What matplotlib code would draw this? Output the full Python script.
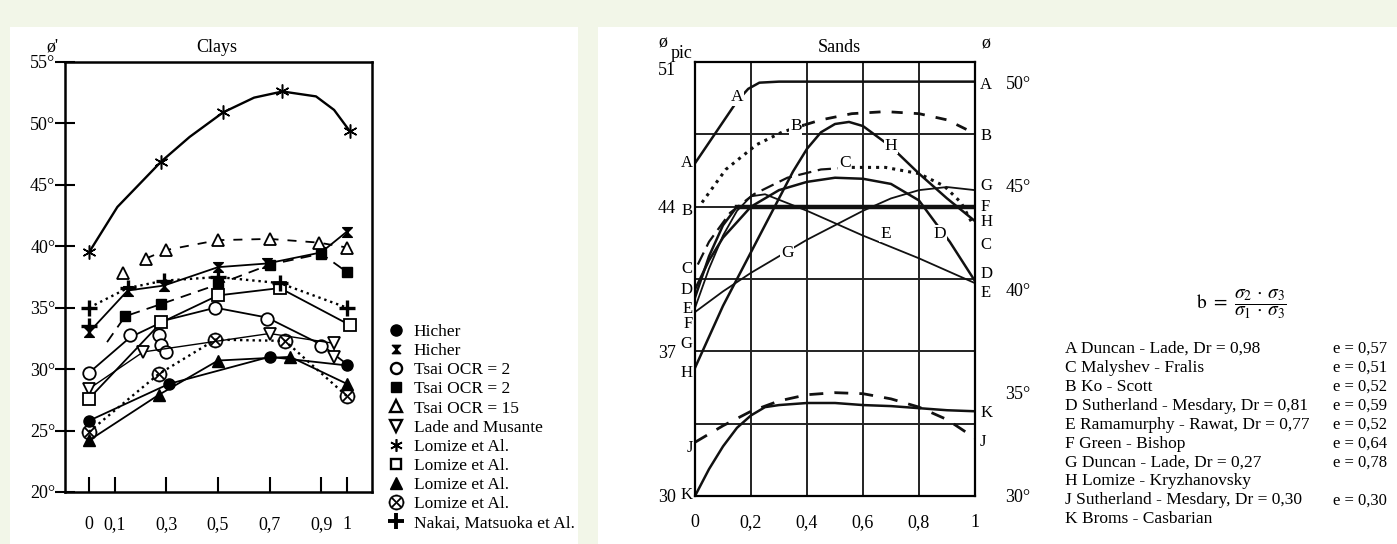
# -*- coding: utf-8 -*-
"""Friction angle vs b for clays and sands."""
import matplotlib
matplotlib.use('Agg')
# pylint: disable=wrong-import-position
import matplotlib.pyplot as plt
from matplotlib.lines import Line2D
from matplotlib.path import Path
from matplotlib.patches import Rectangle

plt.rcParams['font.family'] = ['Liberation Serif', 'DejaVu Serif']
plt.rcParams['mathtext.fontset'] = 'stix'

W, H = 1397, 544

# ---------------- Clays ----------------
clay_xticks = [0, 0.1, 0.3, 0.5, 0.7, 0.9, 1]
clay_xlabels = ['0', '0,1', '0,3', '0,5', '0,7', '0,9', '1']
clay_yticks = [20, 25, 30, 35, 40, 45, 50, 55]

hicher_dot_b = [0, 0.31, 0.70, 1.0]
hicher_dot_phi = [25.8, 28.8, 31.0, 30.3]
hicher_hg_b = [0.0, 0.15, 0.29, 0.50, 0.69, 0.90, 1.0]
hicher_hg_phi = [33.0, 36.4, 36.8, 38.3, 38.6, 39.5, 41.2]
tsai_open_b = [0, 0.16, 0.27, 0.28, 0.30, 0.49, 0.69, 0.90]
tsai_open_phi = [29.7, 32.8, 32.8, 32.0, 31.4, 35.0, 34.1, 31.9]
tsai_open_line_b = [0, 0.16, 0.30, 0.49, 0.69, 0.90, 1.0]
tsai_open_line_phi = [29.7, 32.6, 34.0, 35.0, 34.2, 32.0, 30.4]
tsai_fill_b = [0.07, 0.14, 0.28, 0.50, 0.70, 0.90, 1.0]
tsai_fill_phi = [32.2, 34.3, 35.3, 36.9, 38.5, 39.4, 37.9]
tsai15_b = [0.22, 0.30, 0.50, 0.70, 0.89, 1.0]
tsai15_phi = [39.0, 39.7, 40.5, 40.6, 40.3, 39.9]
tsai15_extra_b = [0.13]
tsai15_extra_phi = [37.8]
lade_b = [0, 0.21, 0.70, 0.95, 0.95]
lade_phi = [28.4, 31.4, 32.9, 32.1, 31.0]
lomize_star_b = [0, 0.11, 0.28, 0.39, 0.52, 0.64, 0.75, 0.88, 0.95, 1.01]
lomize_star_phi = [39.5, 43.2, 46.9, 48.9, 50.9, 52.1, 52.6, 52.2, 51.1, 49.4]
lomize_star_pts = [0, 2, 4, 6, 9]
lomize_sq_b = [0, 0.28, 0.50, 0.74, 1.01]
lomize_sq_phi = [27.6, 33.8, 36.0, 36.6, 33.6]
lomize_tri_b = [0, 0.27, 0.50, 0.78, 1.0]
lomize_tri_phi = [24.2, 27.9, 30.7, 31.0, 28.8]
lomize_ox_b = [0, 0.27, 0.49, 0.76, 1.0]
lomize_ox_phi = [24.9, 29.6, 32.4, 32.3, 27.8]
nakai_b = [0, 0.15, 0.29, 0.50, 0.74, 1.0]
nakai_phi = [35.0, 36.6, 37.2, 37.5, 37.0, 35.0]
nakai_extra_b = [0]
nakai_extra_phi = [33.5]

clay_labels = ['Hicher', 'Hicher', 'Tsai OCR = 2', 'Tsai OCR = 2',
               'Tsai OCR = 15', 'Lade and Musante', 'Lomize et Al.',
               'Lomize et Al.', 'Lomize et Al.', 'Lomize et Al.',
               'Nakai, Matsuoka et Al.']

# ---------------- Sands ----------------
sand_xticks = [0, 0.2, 0.4, 0.6, 0.8, 1]
sand_xlabels = ['0', '0,2', '0,4', '0,6', '0,8', '1']
sand_left_ticks = [30, 37, 44, 51]
sand_grid_minor = [33.5, 40.5, 47.5]
sand_right_ticks = [30, 35, 40, 45, 50]

sand_a_b = [0, 0.05, 0.10, 0.15, 0.19, 0.23, 0.30, 1.0]
sand_a_phi = [46.1, 47.1, 48.1, 49.1, 49.7, 50.0, 50.05, 50.05]
sand_b_b = [0.025, 0.11, 0.22, 0.31, 0.39, 0.45, 0.56, 0.68, 0.80, 0.90, 0.99]
sand_b_phi = [44.2, 45.8, 47.0, 47.6, 47.95, 48.2, 48.5, 48.6, 48.5, 48.2, 47.6]
sand_c_b = [0.01, 0.05, 0.125, 0.21, 0.33, 0.45, 0.56, 0.68, 0.80, 0.89, 0.95, 0.99]
sand_c_phi = [41.2, 42.3, 43.7, 44.6, 45.4, 45.8, 45.9, 45.9, 45.6, 45.0, 44.2, 43.2]
sand_d_b = [0, 0.05, 0.10, 0.20, 0.30, 0.40, 0.50, 0.60, 0.70, 0.80, 0.86, 0.91, 1.0]
sand_d_phi = [40.0, 41.4, 42.5, 44.0, 44.8, 45.2, 45.4, 45.35, 45.1, 44.3, 43.2, 42.3, 40.4]
sand_e_b = [0, 0.05, 0.10, 0.15, 0.20, 0.25, 0.40, 0.60, 0.80, 1.0]
sand_e_phi = [39.1, 41.0, 42.6, 43.8, 44.5, 44.6, 43.8, 42.6, 41.5, 40.3]
sand_f_b = [0, 0.05, 0.10, 0.15, 1.0]
sand_f_phi = [39.6, 41.6, 43.1, 44.0, 44.0]
sand_g_b = [0, 0.1, 0.2, 0.3, 0.4, 0.5, 0.6, 0.7, 0.8, 0.9, 1.0]
sand_g_phi = [38.9, 39.9, 40.8, 41.6, 42.4, 43.1, 43.8, 44.4, 44.8, 44.95, 44.8]
sand_h_b = [0, 0.05, 0.10, 0.15, 0.20, 0.25, 0.30, 0.35, 0.40, 0.45, 0.50,
            0.55, 0.60, 0.65, 0.70, 0.80, 0.90, 1.0]
sand_h_phi = [36.2, 37.7, 39.2, 40.5, 41.8, 43.1, 44.4, 45.7, 46.8, 47.6,
              48.0, 48.1, 47.9, 47.4, 46.9, 45.6, 44.4, 43.3]
sand_j_b = [0, 0.1, 0.2, 0.3, 0.4, 0.5, 0.6, 0.7, 0.8, 0.9, 1.0]
sand_j_phi = [32.6, 33.4, 34.1, 34.6, 34.9, 35.0, 34.95, 34.7, 34.3, 33.7, 32.8]
sand_k_b = [0, 0.05, 0.10, 0.15, 0.20, 0.25, 0.30, 0.40, 0.50, 0.60, 0.70,
            0.80, 0.90, 1.0]
sand_k_phi = [30.0, 31.3, 32.4, 33.3, 33.9, 34.3, 34.4, 34.5, 34.5, 34.4,
              34.35, 34.25, 34.15, 34.1]

sand_left_letters = [('A', 46.1), ('B', 43.8), ('C', 41.0), ('D', 39.95),
                     ('E', 39.05), ('F', 38.3), ('G', 37.35), ('H', 35.95),
                     ('J', 32.3), ('K', 30.05)]
sand_right_letters = [('A', 49.9), ('B', 47.4), ('G', 45.0), ('F', 44.0),
                      ('H', 43.25), ('C', 42.15), ('D', 40.75), ('E', 39.8),
                      ('K', 34.0), ('J', 32.6)]
sand_inner_letters = [('A', 0.15, 49.3), ('B', 0.36, 47.9), ('C', 0.535, 46.1),
                      ('H', 0.70, 46.95), ('D', 0.875, 42.7), ('E', 0.68, 42.7),
                      ('G', 0.33, 41.75)]

sand_refs = ['A Duncan - Lade, Dr = 0,98', 'C Malyshev - Fralis', 'B Ko - Scott',
             'D Sutherland - Mesdary, Dr = 0,81',
             'E Ramamurphy - Rawat, Dr = 0,77', 'F Green - Bishop',
             'G Duncan - Lade, Dr = 0,27', 'H Lomize - Kryzhanovsky',
             'J Sutherland - Mesdary, Dr = 0,30', 'K Broms - Casbarian']
sand_e_values = ['e = 0,57', 'e = 0,51', 'e = 0,52', 'e = 0,59', 'e = 0,52',
                 'e = 0,64', 'e = 0,78', '', 'e = 0,30', '']

FS = 12.5


def fx(p):
    return p / W


def fy(p):
    return 1 - p / H


def main():
    fig = plt.figure(figsize=(W / 100, H / 100), dpi=100)
    fig.patch.set_facecolor('#f2f6e8')
    fig.patches.append(Rectangle((fx(10), 0), fx(578) - fx(10), fy(27),
                                 transform=fig.transFigure, fc='white',
                                 ec='none', zorder=-5))
    fig.patches.append(Rectangle((fx(598), 0), 1 - fx(598), fy(27),
                                 transform=fig.transFigure, fc='white',
                                 ec='none', zorder=-5))

    # ---------------- Clays panel ----------------
    ax = fig.add_axes([fx(65), fy(492), fx(372) - fx(65), fy(62) - fy(492)])
    ax.set_xlim(-0.093, 1.097)
    ax.set_ylim(20, 55)
    for s in ax.spines.values():
        s.set_linewidth(1.8)
    ax.set_xticks(clay_xticks)
    ax.set_xticklabels(clay_xlabels)
    ax.set_yticks(clay_yticks)
    ax.set_yticklabels(['%d°' % v for v in clay_yticks])
    ax.tick_params(axis='x', direction='in', length=11, width=1.5, pad=17,
                   labelsize=13)
    ax.tick_params(axis='y', direction='inout', length=14, width=1.5, pad=0,
                   labelsize=13)

    hourglass = Path([(-1, 1), (1, 1), (-1, -1), (1, -1), (-1, 1)],
                     [Path.MOVETO, Path.LINETO, Path.LINETO, Path.LINETO,
                      Path.CLOSEPOLY])
    k = 'black'
    lw = 1.3
    ax.plot(hicher_dot_b, hicher_dot_phi, '-', color=k, lw=lw,
            marker='o', ms=8, mfc=k)
    ax.plot(hicher_hg_b, hicher_hg_phi, '-', color=k, lw=lw,
            marker=hourglass, ms=7, mfc=k)
    ax.plot(tsai_open_line_b, tsai_open_line_phi, '-', color=k, lw=lw)
    ax.plot(tsai_open_b, tsai_open_phi, ls='none', color=k, marker='o',
            ms=9, mfc='white', mew=1.3)
    ax.plot(tsai_fill_b, tsai_fill_phi, '--', color=k, lw=lw, dashes=(6, 4))
    ax.plot(tsai_fill_b[1:], tsai_fill_phi[1:], ls='none', color=k,
            marker='s', ms=7, mfc=k)
    ax.plot(tsai15_b, tsai15_phi, '--', color=k, lw=lw, dashes=(5, 5),
            marker='^', ms=8, mfc='white', mew=1.3)
    ax.plot(tsai15_extra_b, tsai15_extra_phi, ls='none', color=k,
            marker='^', ms=8, mfc='white', mew=1.3)
    ax.plot(lade_b, lade_phi, '-', color=k, lw=1.0, marker='v', ms=8,
            mfc='white', mew=1.3)
    ax.plot(lomize_star_b, lomize_star_phi, '-', color=k, lw=1.7)
    ax.plot([lomize_star_b[i] for i in lomize_star_pts],
            [lomize_star_phi[i] for i in lomize_star_pts], ls='none',
            color=k, marker=(6, 2, 0), ms=10, mew=1.1)
    ax.plot(lomize_sq_b, lomize_sq_phi, '-', color=k, lw=lw, marker='s',
            ms=8, mfc='white', mew=1.3)
    ax.plot(lomize_tri_b, lomize_tri_phi, '-', color=k, lw=lw, marker='^',
            ms=8, mfc=k)
    ax.plot(lomize_ox_b, lomize_ox_phi, ':', color=k, lw=1.7,
            marker=r'$\otimes$', ms=11, mew=0.3)
    ax.plot(nakai_b, nakai_phi, ':', color=k, lw=1.7, marker='+', ms=11,
            mew=2.4)
    ax.plot(nakai_extra_b, nakai_extra_phi, ls='none', color=k, marker='+',
            ms=11, mew=2.4)

    markers = [dict(marker='o', mfc=k), dict(marker=hourglass, mfc=k, ms=6),
               dict(marker='o', mfc='white', mew=1.7),
               dict(marker='s', mfc=k, ms=7),
               dict(marker='^', mfc='white', mew=1.7),
               dict(marker='v', mfc='white', mew=1.7),
               dict(marker=(6, 2, 0), mew=1.2, ms=9),
               dict(marker='s', mfc='white', mew=1.7, ms=7),
               dict(marker='^', mfc=k), dict(marker=r'$\otimes$', ms=11, mew=0.3),
               dict(marker='+', mew=2.8, ms=11)]
    handles = []
    for m in markers:
        opts = dict(ms=8, color=k)
        opts.update(m)
        handles.append(Line2D([], [], ls='none', **opts))
    fig.legend(handles, clay_labels, loc='upper left',
               bbox_to_anchor=(fx(387), fy(324)), frameon=False,
               handlelength=1.0, handletextpad=0.55, labelspacing=0.17,
               fontsize=FS, borderpad=0, borderaxespad=0)

    fig.text(fx(46), fy(47), "ø'", fontsize=13, va='center', ha='left')
    fig.text(fx(217), fy(48), 'Clays', fontsize=13, va='center', ha='center')

    # ---------------- Sands panel ----------------
    bx = fig.add_axes([fx(695), fy(496), fx(975) - fx(695), fy(62) - fy(496)])
    bx.set_xlim(0, 1)
    bx.set_ylim(30, 51)
    for s in bx.spines.values():
        s.set_linewidth(1.6)
    bx.set_xticks(sand_xticks)
    bx.set_xticklabels(sand_xlabels)
    bx.set_yticks(sand_left_ticks)
    bx.set_yticklabels([str(v) for v in sand_left_ticks])
    bx.get_yticklabels()[-1].set_va('top')
    bx.set_yticks(sand_grid_minor, minor=True)
    bx.tick_params(axis='both', which='both', length=0, labelsize=13)
    bx.tick_params(axis='x', pad=13)
    bx.tick_params(axis='y', pad=14)
    bx.grid(True, which='both', color='#222222', lw=1.4)
    bx.set_axisbelow(True)

    bx2 = bx.twinx()
    bx2.set_ylim(30, 51)
    bx2.set_yticks(sand_right_ticks)
    bx2.set_yticklabels(['%d°' % v for v in sand_right_ticks])
    bx2.tick_params(axis='y', length=0, pad=22, labelsize=13)
    for s in bx2.spines.values():
        s.set_visible(False)

    c = '#111111'
    bx.plot(sand_a_b, sand_a_phi, '-', color=c, lw=1.8)
    bx.plot(sand_b_b[:5], sand_b_phi[:5], ':', color=c, lw=2.2)
    bx.plot(sand_b_b[4:], sand_b_phi[4:], '--', color=c, lw=2.0,
            dashes=(4, 4))
    bx.plot(sand_c_b[:7], sand_c_phi[:7], '--', color=c, lw=1.6,
            dashes=(6, 3))
    bx.plot(sand_c_b[6:], sand_c_phi[6:], ':', color=c, lw=2.2)
    bx.plot(sand_d_b, sand_d_phi, '-', color=c, lw=1.8)
    bx.plot(sand_e_b, sand_e_phi, '-', color=c, lw=1.3)
    bx.plot(sand_f_b[:4], sand_f_phi[:4], '-', color=c, lw=1.8)
    bx.plot(sand_f_b[3:], sand_f_phi[3:], '-', color=c, lw=3.2)
    bx.plot(sand_g_b, sand_g_phi, '-', color=c, lw=1.3)
    bx.plot(sand_h_b, sand_h_phi, '-', color=c, lw=1.8)
    bx.plot(sand_j_b, sand_j_phi, '--', color=c, lw=2.0, dashes=(5, 4))
    bx.plot(sand_k_b, sand_k_phi, '-', color=c, lw=1.8)

    for letter, val in sand_left_letters:
        bx.text(-0.008, val, letter, ha='right', va='center', fontsize=12,
                clip_on=False)
    for letter, val in sand_right_letters:
        bx.text(1.018, val, letter, ha='left', va='center', fontsize=12,
                clip_on=False)
    for letter, xv, yv in sand_inner_letters:
        bx.text(xv, yv, letter, ha='center', va='center', fontsize=12.5,
                bbox=dict(fc='white', ec='none', pad=0.5))

    fig.text(fx(658), fy(43), 'ø', fontsize=13, va='center', ha='left')
    fig.text(fx(671), fy(53), 'pic', fontsize=13, va='center', ha='left')
    fig.text(fx(839), fy(48), 'Sands', fontsize=13, va='center', ha='center')
    fig.text(fx(986), fy(44), 'ø', fontsize=13, va='center', ha='center')

    fig.text(fx(1196), fy(304),
             r'$\mathrm{b}\ =\ \dfrac{\sigma_2\,\cdot\,\sigma_3}'
             r'{\sigma_1\,\cdot\,\sigma_3}$',
             fontsize=14, va='center', ha='left')

    y0 = 349
    step = 18.9
    for i, (ref, ev) in enumerate(zip(sand_refs, sand_e_values)):
        yy = fy(y0 + i * step)
        fig.text(fx(1065), yy, ref, fontsize=FS, va='center', ha='left')
        if ev:
            fig.text(fx(1333), yy, ev, fontsize=12, va='center', ha='left')

    fig.savefig('out.png', dpi=100, facecolor=fig.get_facecolor())


if __name__ == '__main__':
    main()
